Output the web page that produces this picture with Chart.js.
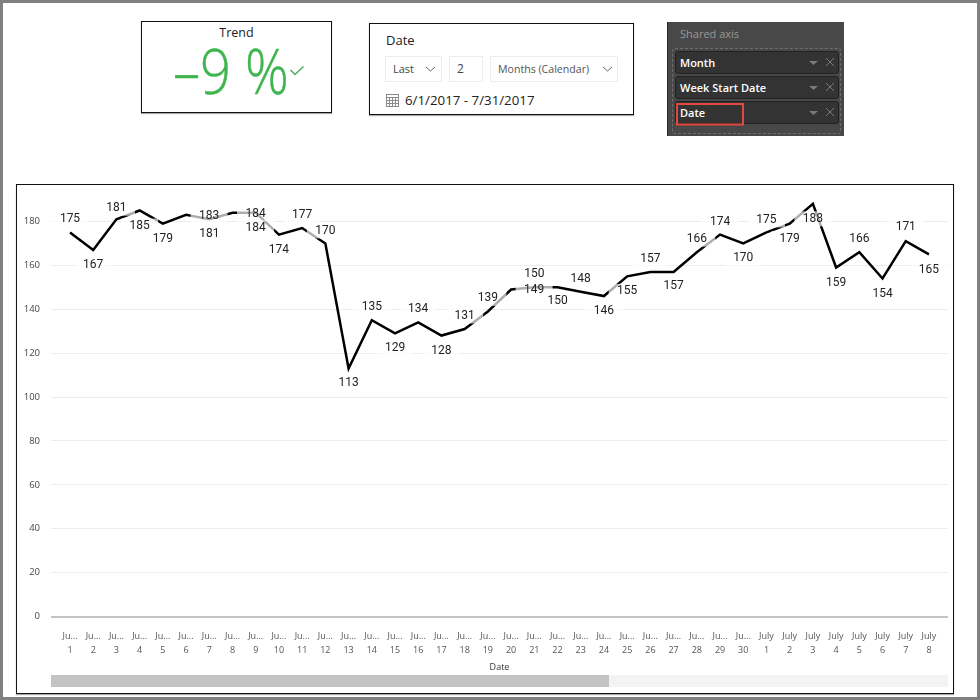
<!DOCTYPE html>
<html><head><meta charset="utf-8">
<script src="https://cdn.jsdelivr.net/npm/chart.js@4"></script>
<style>
html,body{margin:0;padding:0;background:#fff}
#page{position:relative;width:980px;height:700px;overflow:hidden;background:#fff;font-family:"Open Sans",sans-serif;color:#222}
.abs{position:absolute;white-space:nowrap;line-height:1}
.frame{position:absolute;box-sizing:border-box;border:1.5px solid #111;box-shadow:0 1px 1px #aaa;background:#fff}
.box{position:absolute;box-sizing:border-box;border:1px solid #ececec}
#outer{position:absolute;left:0;top:0;width:980px;height:700px;box-sizing:border-box;border:3px solid #808080;pointer-events:none}
.pill{position:absolute;left:675px;width:164px;height:23px;box-sizing:border-box;background:#333;border:1px solid #222;border-radius:3px}
.pilltxt{position:absolute;left:680px;color:#fff;font-size:11px;font-weight:600;white-space:nowrap;line-height:1}
svg{position:absolute;overflow:visible}
canvas{position:absolute;left:17px;top:185px}
</style></head>
<body><div id="page">
<div class="frame" style="left:141px;top:21px;width:191px;height:92px"></div>
<div class="abs" style="left:141px;width:191px;text-align:center;top:26.500px;font-size:12.5px">Trend</div>
<div class="abs" id="kpi" style="left:173px;top:37.500px;font-size:63px;font-weight:300;color:#3fb54f;transform:scaleX(.86);transform-origin:left top;-webkit-text-stroke:.4px #3fb54f">–9 %</div>
<svg style="left:0;top:0" width="980" height="200"><path d="M290.5 70 L295 74.5 L303.5 66.5" fill="none" stroke="#4fb063" stroke-width="1.6"/></svg>

<div class="frame" style="left:369px;top:23px;width:265px;height:92px"></div>
<div class="abs" style="left:386px;top:34px;font-size:13px">Date</div>
<div class="box" style="left:385px;top:56px;width:57px;height:26px"></div>
<div class="abs" style="left:393px;top:63px;font-size:11px;color:#444">Last</div>
<div class="box" style="left:449px;top:56px;width:34px;height:26px"></div>
<div class="abs" style="left:457px;top:63px;font-size:12px;color:#444">2</div>
<div class="box" style="left:490px;top:56px;width:128px;height:26px"></div>
<div class="abs" style="left:498px;top:64px;font-size:10.6px;color:#555">Months (Calendar)</div>
<svg style="left:0;top:0" width="980" height="200">
<path d="M426 67 L430.500 71 L435 67 M603 67 L607.500 71 L612 67" fill="none" stroke="#666" stroke-width="1"/>
<g fill="none" stroke="#8a8a8a" stroke-width="1"><rect x="386.500" y="94.500" width="12" height="12"/><path d="M386.500 97.500H398.500M386.500 100.500H398.500M386.500 103.500H398.500M389.500 97.500V106.500M392.500 97.500V106.500M395.500 97.500V106.500"/></g>
</svg>
<div class="abs" style="left:405px;top:94px;font-size:13.3px">6/1/2017 - 7/31/2017</div>

<div style="position:absolute;left:667px;top:22px;width:177px;height:114px;background:#484848;border-left:1px solid #2a2a2a;box-sizing:border-box"></div>
<div class="abs" style="left:680px;top:28px;font-size:11px;color:#9a9a9a">Shared axis</div>
<div style="position:absolute;left:672px;top:48px;width:169px;height:86px;box-sizing:border-box;border:1px dashed #6e6e6e;border-radius:3px"></div>
<div class="pill" style="top:51px"></div>
<div class="pill" style="top:76px"></div>
<div class="pill" style="top:101px"></div>
<div class="pilltxt" style="top:57px">Month</div>
<div class="pilltxt" style="top:82px">Week Start Date</div>
<div class="pilltxt" style="top:107px">Date</div>
<svg style="left:0;top:0" width="980" height="200">
<g fill="#7a7a7a"><path d="M809 61h9l-4.500 4z"/><path d="M809 86h9l-4.500 4z"/><path d="M809 111h9l-4.500 4z"/></g>
<g stroke="#7a7a7a" stroke-width="1" fill="none"><path d="M826 58l8 8M834 58l-8 8M826 83l8 8M834 83l-8 8M826 108l8 8M834 108l-8 8"/></g>
<rect x="677" y="104" width="66" height="20.500" fill="none" stroke="#e2493f" stroke-width="2"/>
</svg>

<div class="frame" style="left:16px;top:184px;width:938px;height:510px"></div>
<canvas id="c" width="935" height="508"></canvas>
<div style="position:absolute;left:51px;top:675px;width:897px;height:12px;background:#f3f3f3"></div>
<div style="position:absolute;left:51px;top:675px;width:558px;height:12px;background:#c4c4c4"></div>
<div id="outer"></div>
</div>
<script>
const months = ["Ju...","Ju...","Ju...","Ju...","Ju...","Ju...","Ju...","Ju...","Ju...","Ju...","Ju...","Ju...","Ju...","Ju...","Ju...","Ju...","Ju...","Ju...","Ju...","Ju...","Ju...","Ju...","Ju...","Ju...","Ju...","Ju...","Ju...","Ju...","Ju...","Ju...","July","July","July","July","July","July","July","July"];
const days = [1,2,3,4,5,6,7,8,9,10,11,12,13,14,15,16,17,18,19,20,21,22,23,24,25,26,27,28,29,30,1,2,3,4,5,6,7,8];
const values = [175,167,181,185,179,183,181,184,184,174,177,170,113,135,129,134,128,131,139,149,150,150,148,146,155,157,157,166,174,170,175,179,188,159,166,154,171,165];
// label placement relative to each point (px), as the reference moved them to avoid collisions
const labelDx = [0,0,0,0,0,23,0,23,0,0,0,0,0,0,0,0,0,0,0,23,0,0,0,0,0,0,0,0,0,0,0,0,0,0,0,0,0,0];
const labelDy = [-13,15,-11,15.5,15,1,15,1,15,15,-13,-12.5,15,-13.5,15,-13,15,-13,-13,1,-13,13.5,-13,15,15,-13,14,-13,-13,15,-12.5,15,15,15,-13,15,-14,15.5];

const labelsPlugin = {
  id:'pointLabels',
  afterDatasetsDraw(chart){
    const {ctx} = chart, meta = chart.getDatasetMeta(0);
    ctx.save();
    ctx.fillStyle = 'rgba(255,255,255,0.68)';
    meta.data.forEach((p,i)=>{ ctx.fillRect(p.x+labelDx[i]-18.5, p.y+labelDy[i]-7.5, 37, 15); });
    ctx.fillStyle = '#222';
    ctx.font = '12px Roboto';
    ctx.textAlign = 'center';
    ctx.textBaseline = 'middle';
    meta.data.forEach((p,i)=>{ ctx.fillText(String(values[i]), p.x+labelDx[i], p.y+labelDy[i]); });
    ctx.restore();
  }
};
new Chart(document.getElementById('c'),{
  type:'line',
  data:{datasets:[{
    data:values.map((v,i)=>({x:i+1,y:v})),
    borderColor:'#000',borderWidth:2.5,pointRadius:0,tension:0,borderJoinStyle:'miter',fill:false
  }]},
  plugins:[labelsPlugin],
  options:{
    responsive:false,animation:false,
    layout:{padding:{top:11,right:4,bottom:20,left:0}},
    plugins:{legend:{display:false},tooltip:{enabled:false}},
    scales:{
      x:{type:'linear',min:0.1816,max:38.82,
        afterBuildTicks(a){a.ticks=days.map((d,i)=>({value:i+1}));},
        afterFit(a){a.height=56.5;},
        grid:{display:false},border:{display:false},
        ticks:{autoSkip:false,maxRotation:0,minRotation:0,padding:5.5,color:'#555',
          font:{family:'"Open Sans"',size:9,lineHeight:1.5},
          callback(v){const i=Math.round(v)-1;return [months[i],String(days[i])];}},
        title:{display:true,text:'Date',color:'#333',font:{family:'"Open Sans"',size:9},padding:{top:0,bottom:0}}
      },
      y:{min:0,max:189,
        afterFit(a){a.width=34;},
        border:{display:false},
        grid:{drawTicks:false,color:c=>c.tick.value===0?'#c4c4c4':'#ececec',lineWidth:c=>c.tick.value===0?2:1},
        ticks:{stepSize:20,includeBounds:false,padding:11,color:'#444',font:{family:'"Open Sans"',size:9.5}}
      }
    }
  }
});
</script>
</body></html>
